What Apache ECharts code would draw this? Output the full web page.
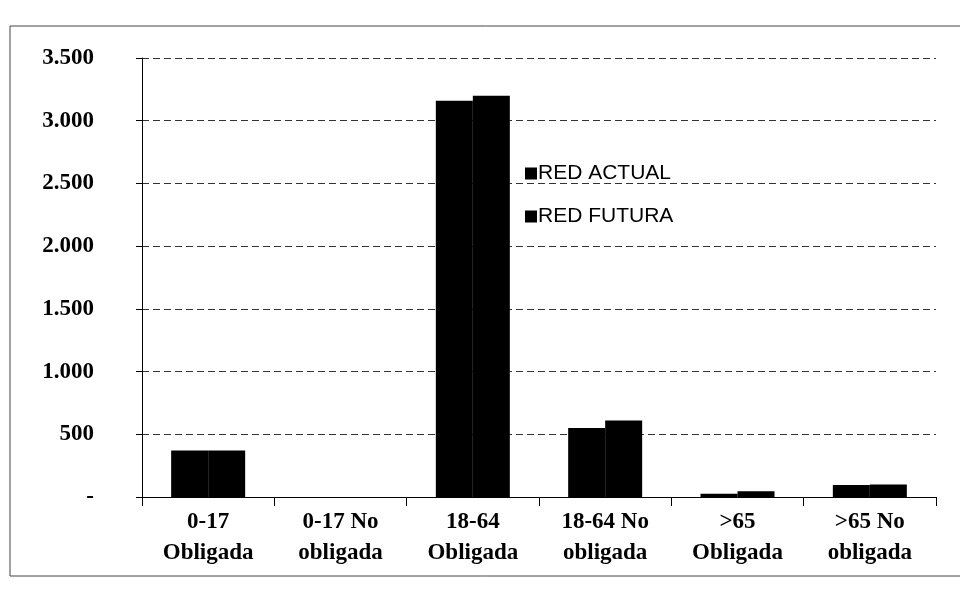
<!DOCTYPE html>
<html>
<head>
<meta charset="utf-8">
<script src="https://cdn.jsdelivr.net/npm/echarts@6/dist/echarts.min.js"></script>
<style>
html,body{margin:0;padding:0;background:#fff;}
#chart{width:960px;height:608px;}
</style>
</head>
<body>
<div id="chart"></div>
<script>
var categories = ['0-17\nObligada', '0-17 No\nobligada', '18-64\nObligada', '18-64 No\nobligada', '>65\nObligada', '>65 No\nobligada'];
var seriesNames = ['RED ACTUAL', 'RED FUTURA'];
var redActual = [370, 0, 3160, 550, 25, 95];
var redFutura = [370, 0, 3200, 610, 45, 100];
var yTicks = [0, 500, 1000, 1500, 2000, 2500, 3000, 3500];

function fmt(v) {
  if (v === 0) return '-';
  return String(v).replace(/\B(?=(\d{3})+(?!\d))/g, '.');
}

var chart = echarts.init(document.getElementById('chart'), null, {renderer: 'canvas'});
chart.setOption({
  backgroundColor: '#ffffff',
  animation: false,
  graphic: [{
    type: 'rect',
    shape: {x: 10, y: 26, width: 1000, height: 550},
    style: {fill: 'none', stroke: '#444', lineWidth: 1}
  }],
  legend: {
    orient: 'vertical',
    left: 520,
    top: 158,
    itemWidth: 12,
    itemHeight: 12,
    itemGap: 22,
    icon: 'rect',
    textStyle: {fontFamily: 'Liberation Sans', fontSize: 21, color: '#000', padding: [0, 0, 0, -4]},
    data: seriesNames
  },
  grid: {left: 142, right: 24, top: 58, bottom: 111},
  xAxis: {
    type: 'category',
    data: categories,
    axisLine: {show: true, lineStyle: {color: '#000', width: 1}},
    axisTick: {show: true, length: 9, lineStyle: {color: '#000'}},
    axisLabel: {
      fontFamily: 'Liberation Serif',
      fontWeight: 'bold',
      fontSize: 23,
      color: '#000',
      lineHeight: 31,
      margin: 10,
      interval: 0
    }
  },
  yAxis: {
    type: 'value',
    min: yTicks[0],
    max: yTicks[yTicks.length - 1],
    interval: 500,
    axisLine: {show: true, lineStyle: {color: '#000', width: 1}},
    axisTick: {show: true, length: 6, lineStyle: {color: '#000'}},
    splitLine: {show: true, lineStyle: {color: '#333', width: 1, type: [7, 4]}},
    axisLabel: {
      fontFamily: 'Liberation Serif',
      fontWeight: 'bold',
      fontSize: 23,
      color: '#000',
      margin: 48,
      formatter: fmt
    }
  },
  series: [{
    name: seriesNames[0],
    type: 'bar',
    data: redActual,
    barWidth: 37,
    barGap: '0%',
    itemStyle: {color: '#000'}
  }, {
    name: seriesNames[1],
    type: 'bar',
    data: redFutura,
    barWidth: 37,
    barGap: '0%',
    itemStyle: {color: '#000'}
  }]
});
</script>
</body>
</html>
